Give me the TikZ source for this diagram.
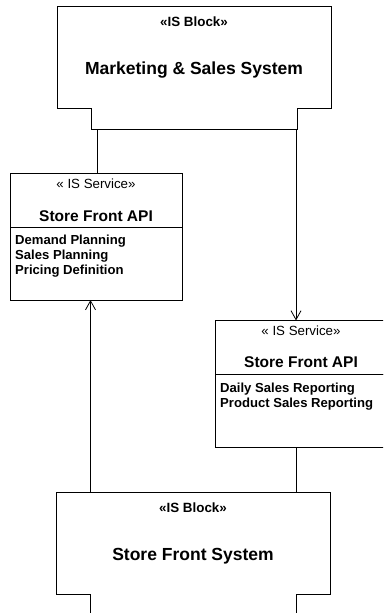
\documentclass[tikz,border=0pt]{standalone}
\usepackage{fontspec}
\setmainfont{Liberation Sans}
\usetikzlibrary{positioning,arrows.meta}

\tikzset{
    outline/.style={draw=black, line width=0.8pt},
    blockbox/.style={minimum width=274pt, minimum height=102pt, inner sep=0pt, outer sep=0pt},
    svchead/.style={outline, minimum width=172pt, minimum height=54pt, inner sep=0pt, outer sep=0pt},
    svcbody/.style={outline, minimum width=172pt, minimum height=73pt, inner sep=0pt, outer sep=0pt},
    blocktag/.style={font=\fontsize{13.4}{16}\selectfont\bfseries, inner sep=0pt, anchor=base},
    blockname/.style={font=\fontsize{17.5}{21}\selectfont\bfseries, inner sep=0pt, anchor=base},
    svctag/.style={font=\fontsize{13.3}{16}\selectfont, inner sep=0pt, anchor=base},
    svcname/.style={font=\fontsize{15.5}{18}\selectfont\bfseries, inner sep=0pt, anchor=base},
    svcitems/.style={font=\fontsize{13.1}{15.3}\selectfont\bfseries, inner sep=0pt, align=left, anchor=north west},
    link/.style={outline},
    flow/.style={outline, -{Straight Barb[length=9pt, width=10pt]}}
}

\begin{document}
\begin{tikzpicture}[x=1pt, y=-1pt]
                \useasboundingbox (0,0) rectangle (383,613);
                \clip (0,0) rectangle (383,613);

                \node[blockbox] (mktg) at (194,57) {};
                \node[blocktag] (mktgtag) at ([yshift=-20pt]mktg.north) {«IS Block»};
                \node[blockname] (mktgname) at ([yshift=-68pt]mktg.north) {Marketing \& Sales System};
                \draw[outline] (mktg.south west) -- (mktg.north west) -- (mktg.north east)
                    -- (mktg.south east) -- ++(-34,0) -- ++(0,21) coordinate (mktgfoot)
                    -- ++(-206,0) -- ++(0,-21) -- cycle;

                \node[svchead] (lefthead) at (96,200) {};
                \node[svcbody, below=0pt of lefthead] (leftbody) {};
                \node[svctag] (lefttag) at ([yshift=-15pt]lefthead.north) {« IS Service»};
                \node[svcname] (leftname) at ([yshift=-48pt]lefthead.north) {Store Front API};
                \node[svcitems] (leftitems) at ([xshift=5pt, yshift=-7.5pt]leftbody.north west)
                    {Demand Planning\\Sales Planning\\Pricing Definition};

                \node[svchead] (righthead) at (301,347.5) {};
                \node[svcbody, below=0pt of righthead] (rightbody) {};
                \node[svctag] (righttag) at ([yshift=-15pt]righthead.north) {« IS Service»};
                \node[svcname] (rightname) at ([yshift=-47pt]righthead.north) {Store Front API};
                \node[svcitems] (rightitems) at ([xshift=5pt, yshift=-8.5pt]rightbody.north west)
                    {Daily Sales Reporting\\Product Sales Reporting};

                \node[blockbox] (store) at (193,543) {};
                \node[blocktag] (storetag) at ([yshift=-20pt]store.north) {«IS Block»};
                \node[blockname] (storename) at ([yshift=-68pt]store.north) {Store Front System};
                \draw[outline] (store.south west) -- (store.north west) -- (store.north east)
                    -- (store.south east) -- ++(-34,0) -- ++(0,21)
                    -- ++(-206,0) -- ++(0,-21) -- cycle;

                \coordinate (leftdrop) at ([xshift=1.5pt]lefthead.north);
                \coordinate (rightdrop) at ([xshift=-5pt]righthead.north);
                \coordinate (leftrise) at ([xshift=-5.5pt]leftbody.south);
                \coordinate (rightrise) at ([xshift=-4.5pt]rightbody.south);

                \draw[link] (leftdrop |- mktgfoot) -- (leftdrop);
                \draw[flow] (rightdrop |- mktgfoot) -- (rightdrop);
                \draw[flow] (leftrise |- store.north) -- (leftrise);
                \draw[link] (rightrise) -- (rightrise |- store.north);
            \end{tikzpicture}
\end{document}
